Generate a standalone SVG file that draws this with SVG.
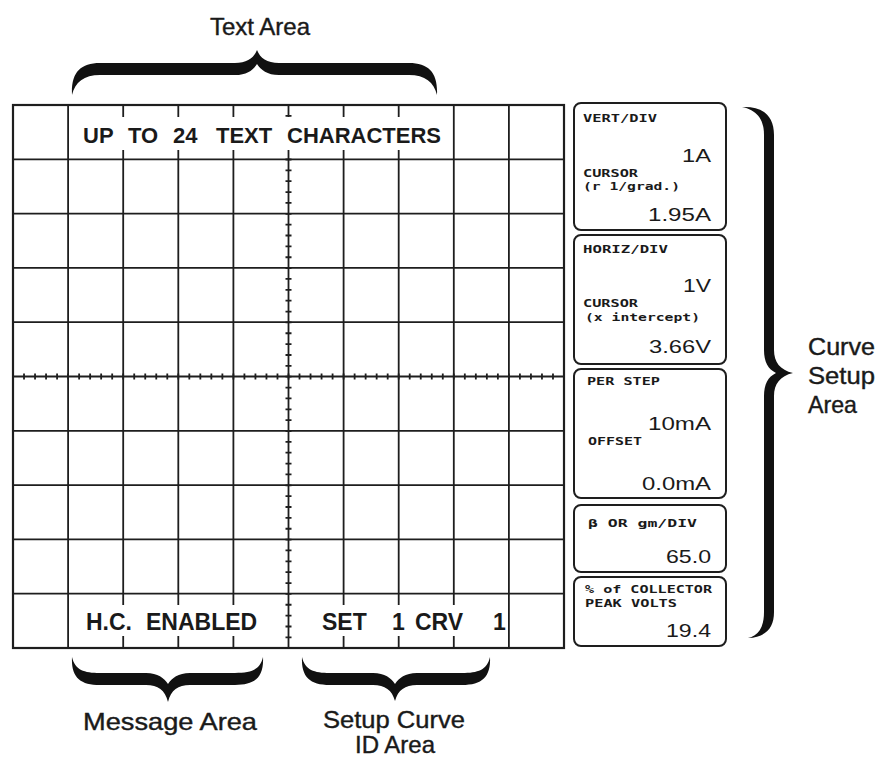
<svg xmlns="http://www.w3.org/2000/svg" width="878" height="760" viewBox="0 0 878 760">
<style>
.g{stroke:#1e1e1e;stroke-width:1.8;fill:none}
.b{stroke:#1e1e1e;stroke-width:2.2;fill:none}
.tk{stroke:#1e1e1e;stroke-width:6;fill:none}
.box{fill:#fff;stroke:#1e1e1e;stroke-width:2}
.brace{fill:#111}
.gt{font-family:"Liberation Sans",Arial,sans-serif;font-weight:bold;font-size:22px;fill:#1a1a1a}
.gb{font-family:"Liberation Sans",Arial,sans-serif;font-weight:bold;font-size:23px;fill:#1a1a1a}
.sm{font-family:"DejaVu Sans Mono",monospace;font-weight:bold;font-size:10px;fill:#1a1a1a}
.val{font-family:"Liberation Sans",Arial,sans-serif;font-size:18px;fill:#1a1a1a}
.lbl{font-family:"Liberation Sans",Arial,sans-serif;font-size:24px;fill:#1a1a1a;stroke:#1a1a1a;stroke-width:0.4}
</style>
<rect width="878" height="760" fill="#fff"/>

<g id="graticule">
  <rect x="13" y="105" width="551" height="543" class="b"/>
  <path class="g" d="M13,159.3H564 M13,213.6H564 M13,267.9H564 M13,322.2H564 M13,376.5H564 M13,430.8H564 M13,485.1H564 M13,539.4H564 M13,593.7H564"/>
  <path class="g" d="M68.1,105V648
    M123.2,105V117 M123.2,150V605 M123.2,636V648
    M178.3,105V117 M178.3,150V605 M178.3,636V648
    M233.4,105V117 M233.4,150V605 M233.4,636V648
    M288.5,105V117 M288.5,150V648
    M343.6,105V117 M343.6,150V605 M343.6,636V648
    M398.7,105V117 M398.7,150V605 M398.7,636V648
    M453.8,105V605 M453.8,636V648
    M508.9,105V648"/>
  <line x1="13" y1="376.5" x2="564" y2="376.5" class="tk" stroke-dasharray="1.8 9.22" stroke-dashoffset="0.9"/>
  <line x1="288.5" y1="105" x2="288.5" y2="117" class="tk" stroke-dasharray="1.8 9.06" stroke-dashoffset="0.9"/>
  <line x1="288.5" y1="150" x2="288.5" y2="648" class="tk" stroke-dasharray="1.8 9.06" stroke-dashoffset="2.26"/>
</g>

<g id="screen-text">
  <text class="gt" y="143"><tspan x="83">UP</tspan><tspan x="128">TO</tspan><tspan x="173">24</tspan><tspan x="216">TEXT</tspan><tspan x="287">CHARACTERS</tspan></text>
  <text class="gb" y="630"><tspan x="86">H.C.</tspan><tspan x="146">ENABLED</tspan></text>
  <text class="gb" y="630"><tspan x="322">SET</tspan><tspan x="392">1</tspan><tspan x="415">CRV</tspan><tspan x="493">1</tspan></text>
</g>

<g id="panel-vert">
  <rect x="574" y="103" width="152" height="127" rx="7" class="box"/>
  <text class="sm" x="583" y="122" textLength="74" lengthAdjust="spacingAndGlyphs">VERT/DIV</text>
  <text class="val" x="682" y="162" textLength="29" lengthAdjust="spacingAndGlyphs">1A</text>
  <text class="sm" x="583" y="177" textLength="55" lengthAdjust="spacingAndGlyphs">CURSOR</text>
  <text class="sm" x="583" y="190" textLength="97" lengthAdjust="spacingAndGlyphs">(r 1/grad.)</text>
  <text class="val" x="648" y="221" textLength="63" lengthAdjust="spacingAndGlyphs">1.95A</text>
</g>

<g id="panel-horiz">
  <rect x="574" y="235" width="152" height="129" rx="7" class="box"/>
  <text class="sm" x="583" y="253" textLength="85" lengthAdjust="spacingAndGlyphs">HORIZ/DIV</text>
  <text class="val" x="683" y="292" textLength="28" lengthAdjust="spacingAndGlyphs">1V</text>
  <text class="sm" x="583" y="307" textLength="55" lengthAdjust="spacingAndGlyphs">CURSOR</text>
  <text class="sm" x="585" y="321" textLength="115" lengthAdjust="spacingAndGlyphs">(x intercept)</text>
  <text class="val" x="649" y="353" textLength="62" lengthAdjust="spacingAndGlyphs">3.66V</text>
</g>

<g id="panel-step">
  <rect x="574" y="369" width="152" height="129" rx="7" class="box"/>
  <text class="sm" x="587" y="385" textLength="73" lengthAdjust="spacingAndGlyphs">PER STEP</text>
  <text class="val" x="648" y="430" textLength="63" lengthAdjust="spacingAndGlyphs">10mA</text>
  <text class="sm" x="588" y="445" textLength="54" lengthAdjust="spacingAndGlyphs">OFFSET</text>
  <text class="val" x="642" y="490" textLength="69" lengthAdjust="spacingAndGlyphs">0.0mA</text>
</g>

<g id="panel-beta">
  <rect x="574" y="505" width="152" height="67" rx="7" class="box"/>
  <text class="sm" x="588" y="527" textLength="109" lengthAdjust="spacingAndGlyphs">β OR gm/DIV</text>
  <text class="val" x="666" y="563" textLength="45" lengthAdjust="spacingAndGlyphs">65.0</text>
</g>

<g id="panel-peak">
  <rect x="574" y="577" width="152" height="69" rx="7" class="box"/>
  <text class="sm" x="585" y="593" textLength="127" lengthAdjust="spacingAndGlyphs">% of COLLECTOR</text>
  <text class="sm" x="585" y="607" textLength="92" lengthAdjust="spacingAndGlyphs">PEAK VOLTS</text>
  <text class="val" x="666" y="637" textLength="45" lengthAdjust="spacingAndGlyphs">19.4</text>
</g>

<g id="braces">
  <path class="brace" d="M72,95 C75,82 84,75 100,75 L235,75 C247,75 253,70 257,64 C261,70 267,75 279,75 L409,75 C425,75 434,82 437,95 C438,73 429,63 409,63 L279,63 C267,63 260,58 257,50 C254,58 247,63 235,63 L100,63 C80,63 71,73 72,95 Z"/>
  <path class="brace" d="M72,657 C75,670 84,673 100,673 L146,673 C158,673 164,678 168,684 C172,678 178,673 190,673 L235,673 C251,673 260,670 263,657 C264,677 255,685 235,685 L190,685 C178,685 171,690 168,702 C165,690 158,685 146,685 L100,685 C80,685 71,677 72,657 Z"/>
  <path class="brace" d="M302,657 C305,670 314,673 330,673 L373,673 C385,673 391,678 395,684 C399,678 405,673 417,673 L462,673 C478,673 487,670 490,657 C491,677 482,685 462,685 L417,685 C405,685 398,690 395,701 C392,690 385,685 373,685 L330,685 C310,685 301,677 302,657 Z"/>
  <path class="brace" d="M742,107 C756,110 764,118 764,135 L764,350 C764,362 768,369 776,373 C768,377 764,384 764,396 L764,612 C764,628 758,636 748,638 C766,637 774,628 774,612 L774,396 C774,384 780,376 793,373 C780,370 774,362 774,350 L774,135 C774,115 762,106 742,107 Z"/>
</g>

<g id="labels">
  <text class="lbl" x="260" y="35" text-anchor="middle">Text Area</text>
  <text class="lbl" x="83" y="730" font-size="25" textLength="174" lengthAdjust="spacingAndGlyphs">Message Area</text>
  <text class="lbl" x="323" y="728" textLength="142" lengthAdjust="spacingAndGlyphs">Setup Curve</text>
  <text class="lbl" x="395" y="753" font-size="23" text-anchor="middle">ID Area</text>
  <text class="lbl" x="808" y="355" font-size="21" textLength="67" lengthAdjust="spacingAndGlyphs">Curve</text>
  <text class="lbl" x="808" y="384" font-size="21" textLength="67" lengthAdjust="spacingAndGlyphs">Setup</text>
  <text class="lbl" x="808" y="413" font-size="21" textLength="49" lengthAdjust="spacingAndGlyphs">Area</text>
</g>
</svg>
